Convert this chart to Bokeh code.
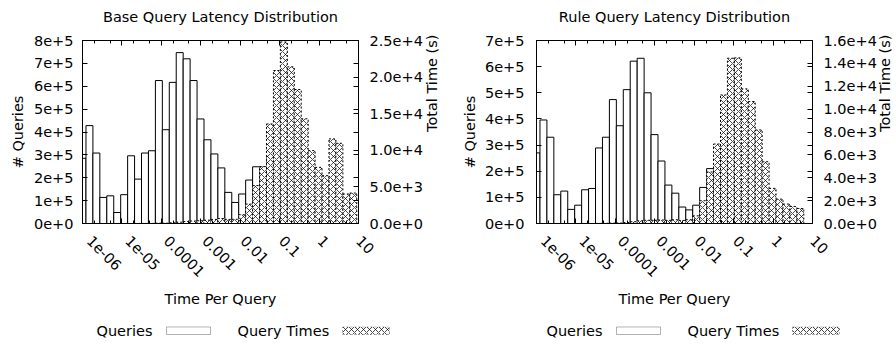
import math
from bokeh.plotting import figure
from bokeh.models import (ColumnDataSource, Range1d, LinearAxis, LogAxis, LogScale,
                          FixedTicker, Label, BoxAnnotation)
from bokeh.layouts import row, column
from bokeh.embed import file_html
from bokeh.resources import INLINE

# ---------------- data ----------------
# histogram bin centres (seconds); bins are geometric with ratio 1.5
bin_centers = [1e-6, 1.5e-6, 2.25e-6, 3.375e-6, 5.0625e-6, 7.594e-6, 1.139e-5, 1.709e-5,
               2.563e-5, 3.844e-5, 5.767e-5, 8.650e-5, 1.297e-4, 1.946e-4, 2.919e-4,
               4.379e-4, 6.568e-4, 9.853e-4, 1.478e-3, 2.217e-3, 3.325e-3, 4.988e-3,
               7.482e-3, 1.122e-2, 1.683e-2, 2.525e-2, 3.788e-2, 5.682e-2, 8.522e-2,
               0.1278, 0.1918, 0.2876, 0.4314, 0.6472, 0.9707, 1.456, 2.184, 3.276,
               4.914, 7.372]
BIN_RATIO = 1.5

base_queries = [2.85e5, 4.28e5, 3.08e5, 1.14e5, 1.21e5, 0.48e5, 1.26e5, 2.96e5, 1.94e5,
                3.08e5, 3.18e5, 6.25e5, 4.10e5, 6.17e5, 7.47e5, 7.20e5, 6.25e5, 4.57e5,
                3.66e5, 3.04e5, 2.43e5, 1.36e5, 0.92e5, 1.29e5, 1.90e5, 2.48e5, 2.48e5,
                2.88e5, 2.95e5, 2.34e5, 1.35e5, 7.7e4, 4.0e4, 1.85e4, 9.5e3, 5.4e3,
                6.4e3, 4.0e3, 990, 680]
base_times = [0.2, 0.5, 0.6, 0.3, 0.5, 0.3, 1.2, 4.2, 4.1, 9.8, 15, 45, 44, 100, 181, 262,
              341, 374, 449, 559, 671, 563, 571, 1200, 2650, 5180, 7770, 13600, 20900,
              24800, 21400, 18300, 14300, 9960, 7670, 6530, 11560, 10960, 4030, 4160]

rule_queries = [2.7e5, 3.96e5, 3.30e5, 1.10e5, 1.24e5, 0.54e5, 0.70e5, 1.29e5, 1.34e5,
                2.89e5, 3.30e5, 4.74e5, 3.74e5, 5.12e5, 6.21e5, 6.32e5, 5.00e5, 3.40e5,
                2.39e5, 1.47e5, 1.16e5, 0.63e5, 0.52e5, 0.70e5, 1.38e5, 2.10e5, 2.16e5,
                2.33e5, 1.99e5, 1.33e5, 7.2e4, 4.36e4, 2.23e4, 9.8e3, 3.7e3, 1.7e3, 916,
                535, 314]
rule_times = [0.2, 0.5, 0.6, 0.3, 0.5, 0.35, 0.7, 1.9, 2.9, 9.4, 16, 35, 41, 85, 154, 235,
              279, 285, 300, 277, 328, 267, 331, 668, 1990, 4500, 6950, 11240, 14450,
              14480, 11770, 10660, 8180, 5400, 3070, 2130, 1700, 1490, 1310]

x_ticks = [1e-6, 1e-5, 1e-4, 1e-3, 1e-2, 1e-1, 1, 10]
x_tick_labels = ["1e-06", "1e-05", "0.0001", "0.001", "0.01", "0.1", "1", "10"]
x_minor_mult = [2, 5]

base_count_ticks = [0, 1e5, 2e5, 3e5, 4e5, 5e5, 6e5, 7e5, 8e5]
base_count_labels = ["0e+0", "1e+5", "2e+5", "3e+5", "4e+5", "5e+5", "6e+5", "7e+5", "8e+5"]
base_time_ticks = [0, 5e3, 1e4, 1.5e4, 2e4, 2.5e4]
base_time_labels = ["0.0e+0", "5.0e+3", "1.0e+4", "1.5e+4", "2.0e+4", "2.5e+4"]

rule_count_ticks = [0, 1e5, 2e5, 3e5, 4e5, 5e5, 6e5, 7e5]
rule_count_labels = ["0e+0", "1e+5", "2e+5", "3e+5", "4e+5", "5e+5", "6e+5", "7e+5"]
rule_time_ticks = [0, 2e3, 4e3, 6e3, 8e3, 1e4, 1.2e4, 1.4e4, 1.6e4]
rule_time_labels = ["0.0e+0", "2.0e+3", "4.0e+3", "6.0e+3", "8.0e+3", "1.0e+4", "1.2e+4",
                    "1.4e+4", "1.6e+4"]

legend_labels = ["Queries", "Query Times"]

# ---------------- style ----------------
FONT = "DejaVu Sans"
FS = "14.5px"
FRAME_W = 276
FRAME_H = 183
TOP = 49          # includes 9px that the root layout shifts upwards
SHIFT_UP = 9
BOTTOM = 97
LEG_H = 22
X_MIN, X_MAX = 1e-6, 10
LABEL_SHIFT_PX = 7   # gnuplot puts rotated tick labels slightly right of the tick


def style_axis(ax, ticks, labels=None, minor=None, hide_labels=False):
    ax.ticker = FixedTicker(ticks=ticks, minor_ticks=minor or [])
    if labels is not None:
        ax.major_label_overrides = {t: l for t, l in zip(ticks, labels)}
    ax.axis_line_color = "black"
    ax.major_tick_line_color = "black"
    ax.minor_tick_line_color = "black"
    ax.major_tick_in = 5
    ax.major_tick_out = 0
    ax.minor_tick_in = 3
    ax.minor_tick_out = 0
    ax.major_label_text_font = FONT
    ax.major_label_text_font_size = FS
    ax.major_label_text_color = "black"
    ax.axis_label_text_font = FONT
    ax.axis_label_text_font_size = FS
    ax.axis_label_text_font_style = "normal"
    ax.axis_label_text_color = "black"
    if hide_labels:
        ax.major_label_overrides = {t: "" for t in ticks}
        ax.major_label_text_font_size = "0px"
        ax.major_label_standoff = 0


def panel(title, queries, times, cticks, clabels, tticks, tlabels, b_left, b_right,
          l_standoff, l_label_standoff, r_standoff, r_label_standoff):
    n_q = len(queries)
    half = math.sqrt(BIN_RATIO)
    centers = bin_centers[:n_q]
    src = ColumnDataSource(dict(
        left=[c / half for c in centers],
        right=[c * half for c in centers],
        queries=queries,
        times=times,
    ))
    p = figure(frame_width=FRAME_W, frame_height=FRAME_H, x_axis_type="log",
               x_range=Range1d(X_MIN, X_MAX), y_range=Range1d(0, cticks[-1]),
               output_backend="svg", toolbar_location=None,
               min_border_left=b_left, min_border_right=b_right,
               min_border_top=TOP, min_border_bottom=BOTTOM)
    p.extra_y_ranges = {"time": Range1d(0, tticks[-1])}
    decades = math.log10(X_MAX / X_MIN)
    shift = 10 ** (LABEL_SHIFT_PX * decades / FRAME_W)
    # label range: nudges the rotated labels right while keeping "10" inside the frame
    p.extra_x_ranges = {"xlab": Range1d(X_MIN / shift, X_MAX)}
    p.extra_x_scales = {"xlab": LogScale()}
    p.xgrid.grid_line_color = None
    p.ygrid.grid_line_color = None
    p.outline_line_color = "black"
    p.outline_line_alpha = 1
    p.outline_line_width = 1
    p.background_fill_color = "white"
    p.border_fill_color = "white"

    p.title.text = title
    p.title.align = "center"
    p.title.vertical_align = "top"
    p.title.text_font = FONT
    p.title.text_font_size = FS
    p.title.text_font_style = "normal"
    p.title.text_color = "black"
    p.title.standoff = 28

    minor = [m * t for t in x_ticks[:-1] for m in x_minor_mult]

    # tick marks on the true positions
    xa = p.below[0]
    style_axis(xa, x_ticks, None, minor, hide_labels=True)

    # tick labels (rotated) + axis label
    xl = LogAxis(x_range_name="xlab")
    style_axis(xl, x_ticks, x_tick_labels)
    xl.axis_line_color = None
    xl.major_tick_in = 0
    xl.minor_tick_in = 0
    xl.major_label_orientation = -math.pi / 4
    xl.major_label_standoff = 15
    xl.axis_label = "Time Per Query"
    xl.axis_label_standoff = 7
    p.add_layout(xl, "below")

    ya = p.left[0]
    style_axis(ya, cticks, clabels)
    ya.major_label_standoff = l_standoff
    ya.axis_label = "# Queries"
    ya.axis_label_standoff = l_label_standoff

    top = LogAxis()
    style_axis(top, x_ticks, None, minor, hide_labels=True)
    p.add_layout(top, "above")

    mirror = LinearAxis()
    style_axis(mirror, cticks, None, None, hide_labels=True)
    p.add_layout(mirror, "right")

    ya2 = LinearAxis(y_range_name="time", axis_label="Total Time (s)")
    style_axis(ya2, tticks, tlabels)
    ya2.major_label_standoff = r_standoff
    ya2.axis_label_standoff = r_label_standoff
    if "axis_label_orientation" in ya2.properties():
        ya2.axis_label_orientation = math.pi / 2
    p.add_layout(ya2, "right")

    p.quad(left="left", right="right", bottom=0, top="queries", source=src,
           fill_color="white", line_color="black", line_width=1)
    p.quad(left="left", right="right", bottom=0, top="times", source=src,
           y_range_name="time", fill_color="white", line_color="black", line_width=1,
           line_dash="2 2", hatch_pattern="diagonal_cross", hatch_color="black",
           hatch_scale=6, hatch_weight=0.7)

    # legend strip below the panel (text first, then sample, as in the original)
    w = b_left + FRAME_W + b_right
    leg = figure(width=w, height=LEG_H, x_range=Range1d(0, w), y_range=Range1d(0, LEG_H),
                 x_axis_location=None, y_axis_location=None, min_border=0,
                 output_backend="svg", toolbar_location=None)
    leg.outline_line_color = None
    leg.xgrid.grid_line_color = None
    leg.ygrid.grid_line_color = None
    cy = 12
    leg.add_layout(Label(x=b_left + 14, y=cy, text=legend_labels[0], text_font=FONT,
                         text_font_size=FS, text_baseline="middle", text_align="left",
                         text_color="black"))
    leg.add_layout(BoxAnnotation(left=b_left + 84, right=b_left + 128, top=cy + 3.5,
                                 bottom=cy - 4, fill_color="white", fill_alpha=1,
                                 line_color="black", line_width=1))
    leg.add_layout(Label(x=b_left + 155, y=cy, text=legend_labels[1], text_font=FONT,
                         text_font_size=FS, text_baseline="middle", text_align="left",
                         text_color="black"))
    leg.add_layout(BoxAnnotation(left=b_left + 260, right=b_left + 307, top=cy + 3.5,
                                 bottom=cy - 4, fill_color="white", fill_alpha=1,
                                 line_color="black", line_width=1, line_dash="2 2",
                                 hatch_pattern="diagonal_cross", hatch_color="black",
                                 hatch_scale=6, hatch_weight=0.7))
    return p, leg


p1, l1 = panel("Base Query Latency Distribution", base_queries, base_times,
               base_count_ticks, base_count_labels, base_time_ticks, base_time_labels,
               82, 88, 9, 5, 11, 6)
p2, l2 = panel("Rule Query Latency Distribution", rule_queries, rule_times,
               rule_count_ticks, rule_count_labels, rule_time_ticks, rule_time_labels,
               86, 87, 12, 4, 11, 5)

layout = column(row(p1, p2), row(l1, l2), margin=(-SHIFT_UP, 0, 0, 0))
open("out.html", "w").write(file_html(layout, INLINE))
